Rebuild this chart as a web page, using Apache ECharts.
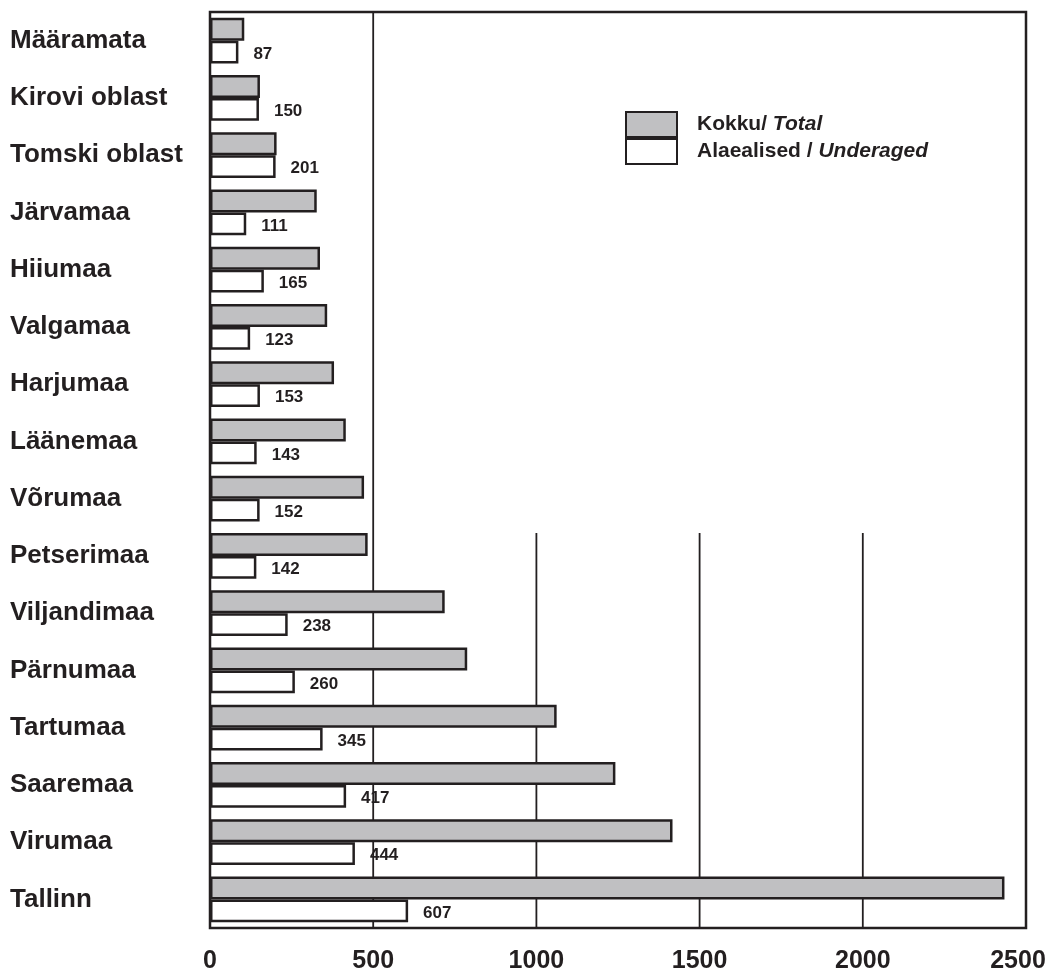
<!DOCTYPE html>
<html>
<head>
<meta charset="utf-8">
<script src="https://cdn.jsdelivr.net/npm/echarts@6/dist/echarts.min.js"></script>
<style>html,body{margin:0;padding:0;background:#fff;}#c{width:1050px;height:970px;}</style>
</head>
<body>
<div id="c"></div>
<script>
const categories = ['Määramata','Kirovi oblast','Tomski oblast','Järvamaa','Hiiumaa','Valgamaa','Harjumaa','Läänemaa','Võrumaa','Petserimaa','Viljandimaa','Pärnumaa','Tartumaa','Saaremaa','Virumaa','Tallinn'];
const total = [105, 153, 204, 327, 337, 359, 380, 416, 472, 483, 719, 788, 1062, 1242, 1417, 2434];
const underaged = [87, 150, 201, 111, 165, 123, 153, 143, 152, 142, 238, 260, 345, 417, 444, 607];
const xTicks = [0, 500, 1000, 1500, 2000, 2500];
const seriesNames = ['Kokku/ Total', 'Alaealised / Underaged'];

const INK = '#231f20';
const FONT = '"Liberation Sans", Arial, sans-serif';
const chart = echarts.init(document.getElementById('c'), null, {renderer: 'canvas'});

const GRID = {left: 210, right: 24, top: 12, bottom: 42};
const option = {
  backgroundColor: '#fff',
  animation: false,
  grid: {left: GRID.left, right: GRID.right, top: GRID.top, bottom: GRID.bottom, containLabel: false, outerBoundsMode: 'none',
    show: true, borderColor: INK, borderWidth: 2.5, backgroundColor: 'transparent'},
  legend: {
    orient: 'vertical', left: 620, top: 106,
    itemWidth: 51, itemHeight: 25, itemGap: 0, icon: 'rect',
    data: seriesNames,
    selectedMode: false,
    textStyle: {
      padding: [0, 0, 0, 15], fontFamily: FONT, fontSize: 21, fontWeight: 'bold', color: INK,
      rich: {
        b: {fontFamily: FONT, fontSize: 21, fontWeight: 'bold', color: INK, height: 24},
        i: {fontFamily: FONT, fontSize: 21, fontWeight: 'bold', fontStyle: 'italic', color: INK, height: 24}
      }
    },
    formatter: function (name) {
      if (name === seriesNames[0]) return '{b|Kokku/ }{i|Total}';
      return '{b|Alaealised / }{i|Underaged}';
    }
  },
  xAxis: {
    type: 'value', min: xTicks[0], max: xTicks[xTicks.length - 1], interval: xTicks[1] - xTicks[0],
    axisLine: {show: false}, axisTick: {show: false}, splitLine: {show: false},
    axisLabel: {
      margin: 21, fontFamily: FONT, fontSize: 25, fontWeight: 'bold', color: INK,
      formatter: function (v) { return v === xTicks[xTicks.length - 1] ? '{m|' + v + '}' : '{n|' + v + '}'; },
      rich: {
        m: {fontFamily: FONT, fontSize: 25, fontWeight: 'bold', color: INK, padding: [0, 16, 0, 0]},
        n: {fontFamily: FONT, fontSize: 25, fontWeight: 'bold', color: INK}
      }
    }
  },
  yAxis: {
    type: 'category', inverse: true, data: categories,
    axisLine: {show: false}, axisTick: {show: false}, splitLine: {show: false},
    axisLabel: {align: 'left', margin: 200, padding: [9, 0, 0, 0], fontFamily: FONT, fontSize: 26, fontWeight: 'bold', color: INK}
  },
  series: [
    {
      name: seriesNames[0], type: 'bar', data: total, z: 2,
      barCategoryGap: '20%', barGap: '0%',
      itemStyle: {color: '#c0c0c2', borderColor: INK, borderWidth: 2.5}
    },
    {
      name: seriesNames[1], type: 'bar', data: underaged, z: 2,
      barCategoryGap: '20%', barGap: '0%',
      itemStyle: {color: '#ffffff', borderColor: INK, borderWidth: 2.5},
      label: {show: true, position: 'right', distance: 15, offset: [0, 2], fontFamily: FONT, fontSize: 17, fontWeight: 'bold', color: INK}
    }
  ]
};
chart.setOption(option);

// Vertical gridlines: the 500 line runs full height; the others start at the Petserimaa row (legend area kept clear)
const yTopPx = chart.convertToPixel({yAxisIndex: 0}, categories[0]);
const yBotPx = chart.convertToPixel({yAxisIndex: 0}, categories[categories.length - 1]);
const bandH = (yBotPx - yTopPx) / (categories.length - 1);
const gridTop = yTopPx - bandH / 2, gridBottom = yBotPx + bandH / 2;
const partialStartY = chart.convertToPixel({yAxisIndex: 0}, 'Petserimaa') - bandH * 0.4;
const lines = [];
xTicks.slice(1, -1).forEach(function (v, i) {
  const x = chart.convertToPixel({xAxisIndex: 0}, v);
  const y1 = (i === 0) ? gridTop : partialStartY;
  lines.push({type: 'line', z: 1, silent: true, shape: {x1: x, y1: y1, x2: x, y2: gridBottom}, style: {stroke: INK, lineWidth: 1.8}});
});
chart.setOption({graphic: {elements: lines}});
</script>
</body>
</html>
